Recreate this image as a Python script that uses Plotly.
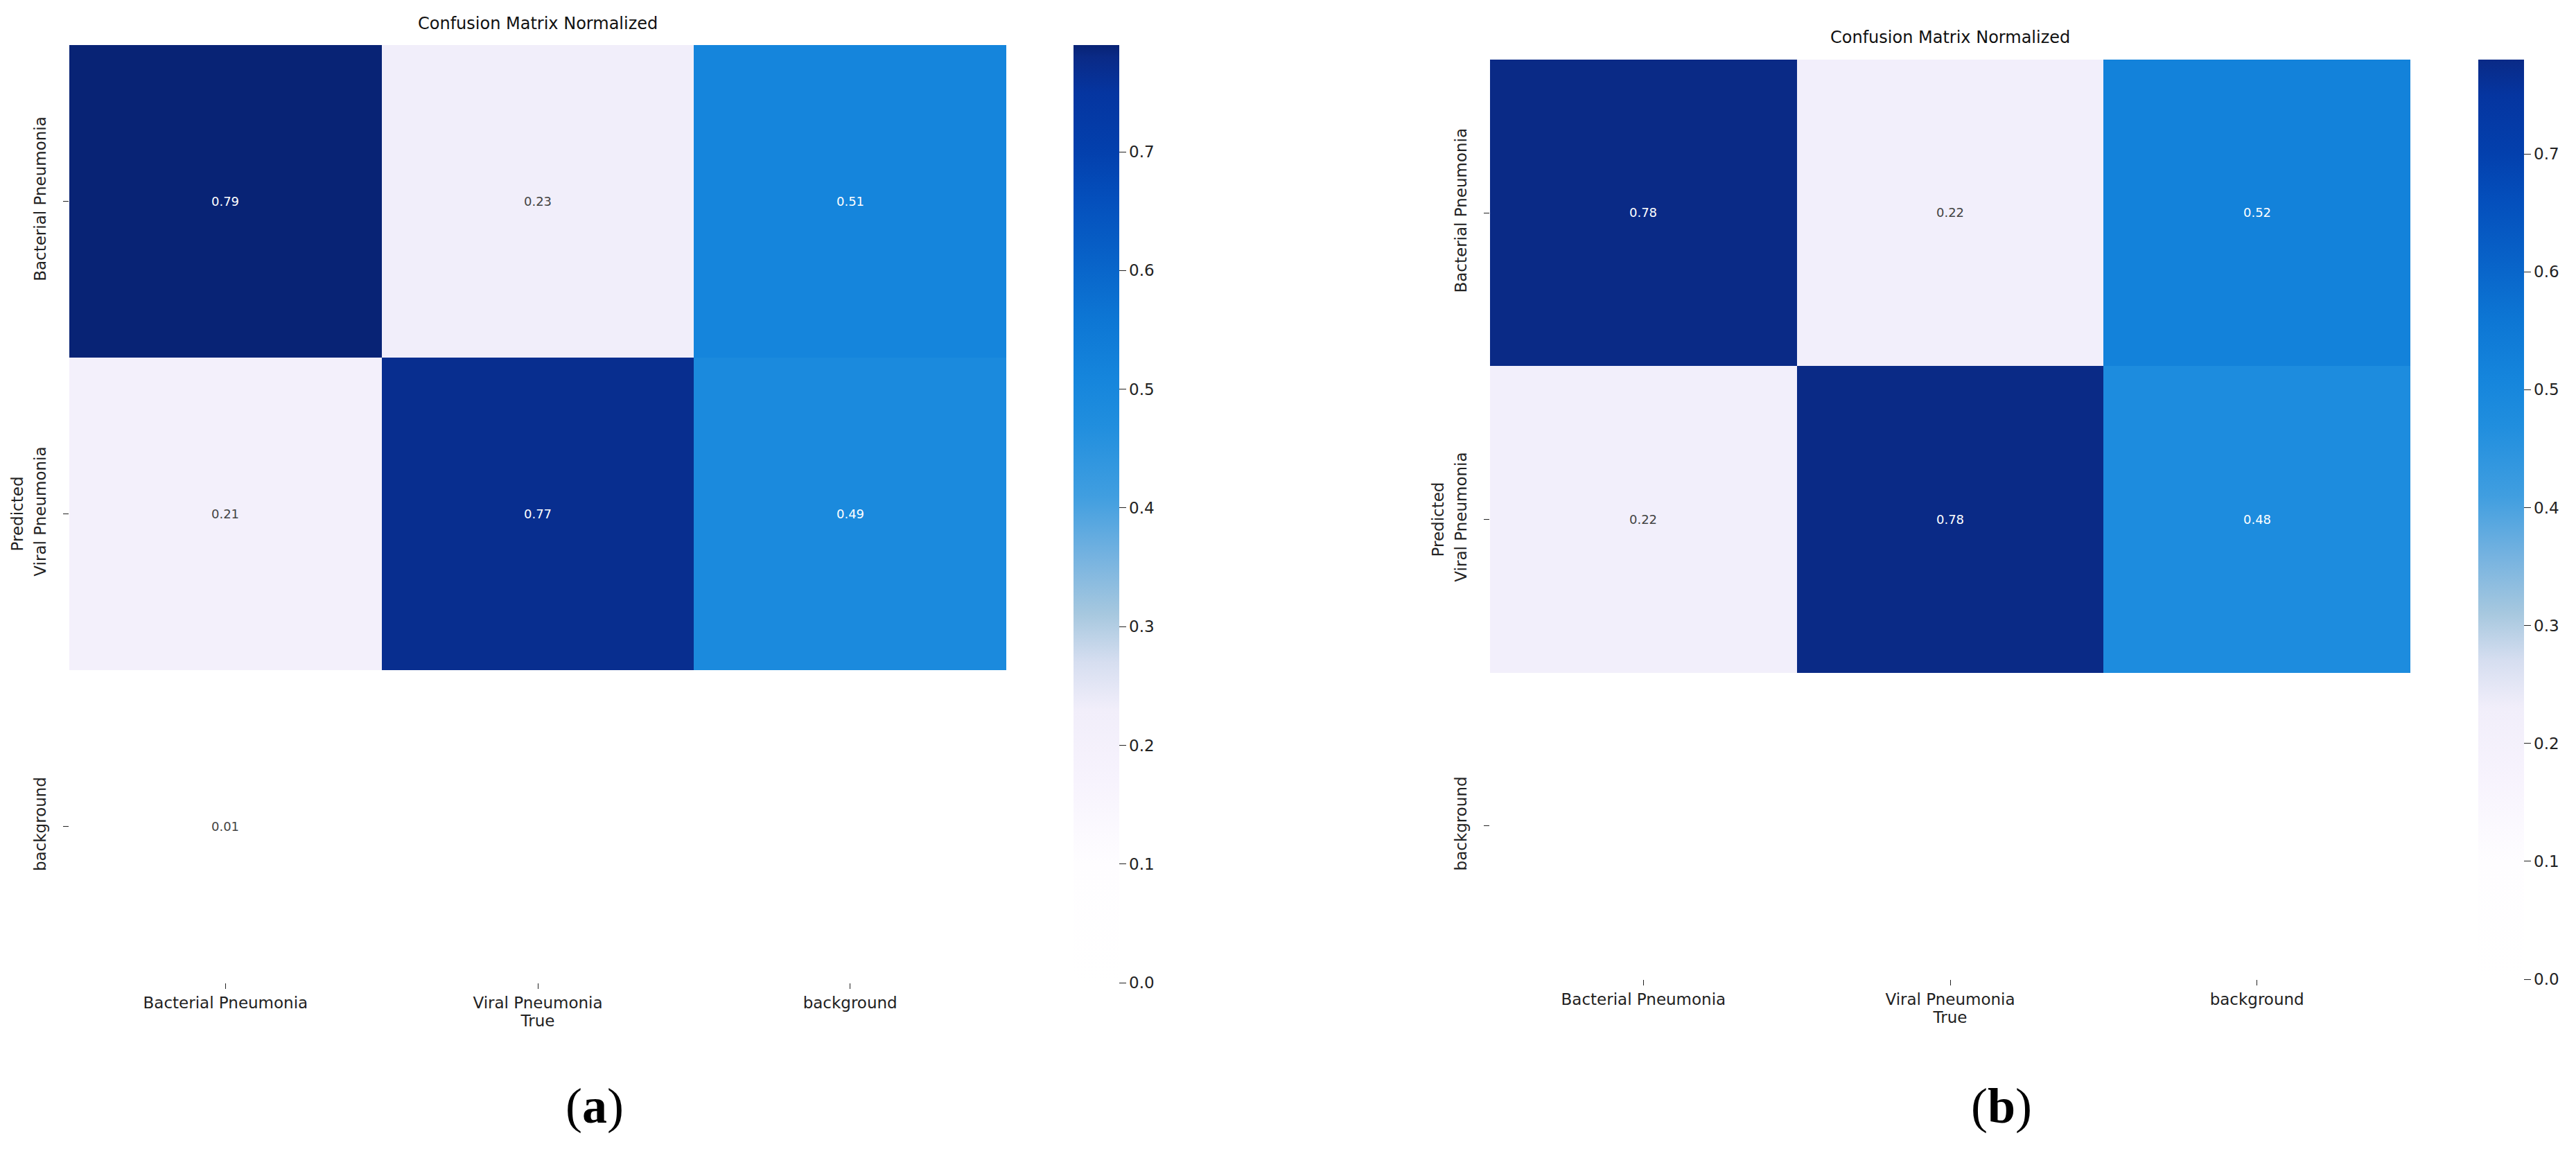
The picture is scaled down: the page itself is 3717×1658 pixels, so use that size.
import plotly.graph_objects as go

# ---------------- data ----------------
true_labels = ["Bacterial Pneumonia", "Viral Pneumonia", "background"]
pred_labels = ["Bacterial Pneumonia", "Viral Pneumonia", "background"]

# rows = Predicted, columns = True (None = empty cell)
matrix_a_bacterial = [0.79, 0.23, 0.51]
matrix_a_viral = [0.21, 0.77, 0.49]
matrix_a_background = [0.01, None, None]

matrix_b_bacterial = [0.78, 0.22, 0.52]
matrix_b_viral = [0.22, 0.78, 0.48]
matrix_b_background = [None, None, None]

panel_titles = ["Confusion Matrix Normalized", "Confusion Matrix Normalized"]
panel_tags = ["(<b>a</b>)", "(<b>b</b>)"]
colorbar_ticks = [0.0, 0.1, 0.2, 0.3, 0.4, 0.5, 0.6, 0.7]

# ---------------- colour map (value -> colour) ----------------
color_stops = [
    (0.00, "#ffffff"), (0.10, "#fefdff"), (0.17, "#f7f3fd"), (0.23, "#f1eefa"),
    (0.27, "#d6def0"), (0.31, "#a7c8df"), (0.36, "#74b2e0"), (0.41, "#409ee0"),
    (0.47, "#208ede"), (0.51, "#1585dc"), (0.56, "#0d76d4"), (0.61, "#0862c8"),
    (0.66, "#044fbc"), (0.70, "#0340ad"), (0.75, "#0535a0"), (0.78, "#0a2a86"),
    (0.80, "#051c64"),
]


def _hex(c):
    c = c.lstrip("#")
    return [int(c[i:i + 2], 16) for i in (0, 2, 4)]


def _interp(v):
    for (v0, c0), (v1, c1) in zip(color_stops[:-1], color_stops[1:]):
        if v0 <= v <= v1:
            t = (v - v0) / (v1 - v0) if v1 > v0 else 0
            a, b = _hex(c0), _hex(c1)
            r = [round(a[i] + (b[i] - a[i]) * t) for i in range(3)]
            return "#%02x%02x%02x" % tuple(r)
    return color_stops[-1][1]


def make_scale(zmax):
    sc = [(v / zmax, c) for v, c in color_stops if v < zmax]
    sc.append((1.0, _interp(zmax)))
    return [[p, c] for p, c in sc]


def zmax_of(rows):
    return max(v for r in rows for v in r if v is not None)


# ---------------- geometry (pixels) ----------------
W, H = 3717, 1658
panels = [
    dict(rows=[matrix_a_bacterial, matrix_a_viral, matrix_a_background],
         x0=92, x1=1444, y0=57, y1=1410, cbx=1541, title_y=26, tag_x=850),
    dict(rows=[matrix_b_bacterial, matrix_b_viral, matrix_b_background],
         x0=2142, x1=3470, y0=78, y1=1405, cbx=3568, title_y=46, tag_x=2880),
]

FONT = "DejaVu Sans"
fig = go.Figure()
annotations = []

for i, p in enumerate(panels):
    n = "" if i == 0 else str(i + 1)
    zmax = zmax_of(p["rows"])
    fig.add_trace(go.Heatmap(
        z=p["rows"], x=true_labels, y=pred_labels,
        xaxis="x" + n, yaxis="y" + n,
        zmin=0, zmax=zmax, colorscale=make_scale(zmax),
        texttemplate="%{z:.2f}", textfont=dict(size=18, family=FONT),
        hoverongaps=False,
        colorbar=dict(
            x=p["cbx"] / W, xanchor="left", xref="paper", xpad=0, ypad=0,
            y=1 - (p["y0"] + p["y1"]) / 2 / H, yanchor="middle",
            len=p["y1"] - p["y0"], lenmode="pixels",
            thickness=66, thicknessmode="pixels",
            outlinewidth=0, ticks="outside", ticklen=10, tickcolor="#222",
            tickvals=colorbar_ticks, tickformat=".1f",
            tickfont=dict(size=23, family=FONT, color="#222"),
        ),
    ))
    xd = [p["x0"] / W, p["x1"] / W]
    yd = [1 - p["y1"] / H, 1 - p["y0"] / H]
    fig.update_layout({
        "xaxis" + n: dict(domain=xd, anchor="y" + n, showgrid=False, zeroline=False,
                          ticks="outside", ticklen=8, tickcolor="#222",
                          tickfont=dict(size=23, family=FONT, color="#222"),
                          title=dict(text="True", font=dict(size=23, family=FONT, color="#222"),
                                     standoff=4),
                          showline=False),
        "yaxis" + n: dict(domain=yd, anchor="x" + n, showgrid=False, zeroline=False,
                          autorange="reversed", ticks="outside", ticklen=8, tickcolor="#222",
                          tickangle=-90, ticklabelstandoff=16,
                          tickfont=dict(size=23, family=FONT, color="#222"),
                          title=dict(text="Predicted", font=dict(size=23, family=FONT, color="#222"),
                                     standoff=4),
                          showline=False),
    })
    annotations.append(dict(
        text=panel_titles[i], x=(p["x0"] + p["x1"]) / 2 / W, y=1 - p["title_y"] / H,
        xref="paper", yref="paper", xanchor="center", yanchor="middle", showarrow=False,
        font=dict(size=24, family=FONT, color="#111")))
    annotations.append(dict(
        text=panel_tags[i], x=p["tag_x"] / W, y=1 - 1588 / H,
        xref="paper", yref="paper", xanchor="center", yanchor="middle", showarrow=False,
        font=dict(size=72, family="Liberation Serif", color="#000")))

fig.update_layout(
    width=W, height=H, margin=dict(l=0, r=0, t=0, b=0),
    paper_bgcolor="white", plot_bgcolor="white",
    annotations=annotations, showlegend=False,
)

fig.write_html("out.html")
